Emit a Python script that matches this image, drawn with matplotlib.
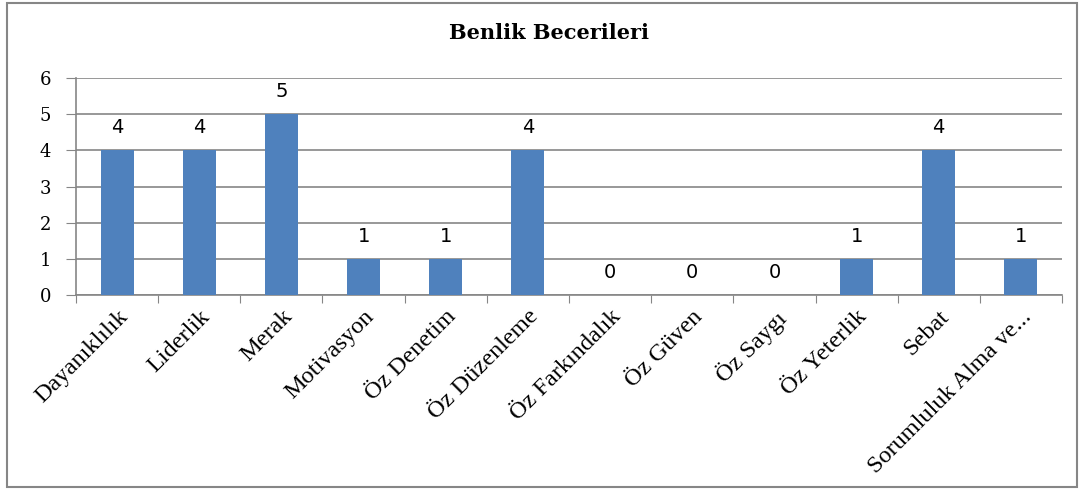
import matplotlib.pyplot as plt
from matplotlib.patches import Rectangle

# Data
categories = ["Dayanıklılık", "Liderlik", "Merak", "Motivasyon", "Öz Denetim",
              "Öz Düzenleme", "Öz Farkındalık", "Öz Güven", "Öz Saygı",
              "Öz Yeterlik", "Sebat", "Sorumluluk Alma ve..."]
values = [4, 4, 5, 1, 1, 4, 0, 0, 0, 1, 4, 1]
yticks = [0, 1, 2, 3, 4, 5, 6]

fig = plt.figure(figsize=(10.8, 4.9), dpi=100)
ax = fig.add_axes([76 / 1080, 1 - 295 / 490, 986 / 1080, 217 / 490])

x = list(range(len(categories)))
bars = ax.bar(x, values, width=0.4, color="#4f81bd", zorder=3)

# value labels above bars
for xi, v in zip(x, values):
    ax.text(xi, v + 0.36, str(v), ha="center", va="bottom",
            fontsize=14, family="DejaVu Sans")

ax.set_xlim(-0.5, len(categories) - 0.5)
ax.set_ylim(0, 6)
ax.set_yticks(yticks)
ax.set_yticklabels([str(t) for t in yticks], family="DejaVu Serif", fontsize=13)
ax.yaxis.grid(True, color="#868686", linewidth=1.2, zorder=0)

# category ticks between bars, labels at bar centers
ax.set_xticks([i - 0.5 for i in range(len(categories) + 1)])
ax.set_xticklabels([])
ax.set_xticks(x, minor=True)
ax.set_xticklabels(categories, minor=True, rotation=45, ha="right",
                   rotation_mode="anchor", family="Liberation Serif", fontsize=17.5)
ax.tick_params(axis="x", which="minor", length=0, pad=8)
ax.tick_params(axis="x", which="major", length=6, color="#868686", direction="out")
ax.tick_params(axis="y", length=7, color="#868686", pad=11)

for s in ["top", "right"]:
    ax.spines[s].set_visible(False)
for s in ["left", "bottom"]:
    ax.spines[s].set_color("#868686")
    ax.spines[s].set_linewidth(1.2)

fig.text(549 / 1080, 1 - 33 / 490, "Benlik Becerileri", fontsize=15,
         fontweight="bold", family="DejaVu Serif", ha="center", va="center")

# outer chart border
fig.patches.append(Rectangle((7 / 1080, 3 / 490), 1070 / 1080, 484 / 490,
                             transform=fig.transFigure, fill=False,
                             edgecolor="#868686", linewidth=1.5))

fig.savefig("out.png", dpi=100)
